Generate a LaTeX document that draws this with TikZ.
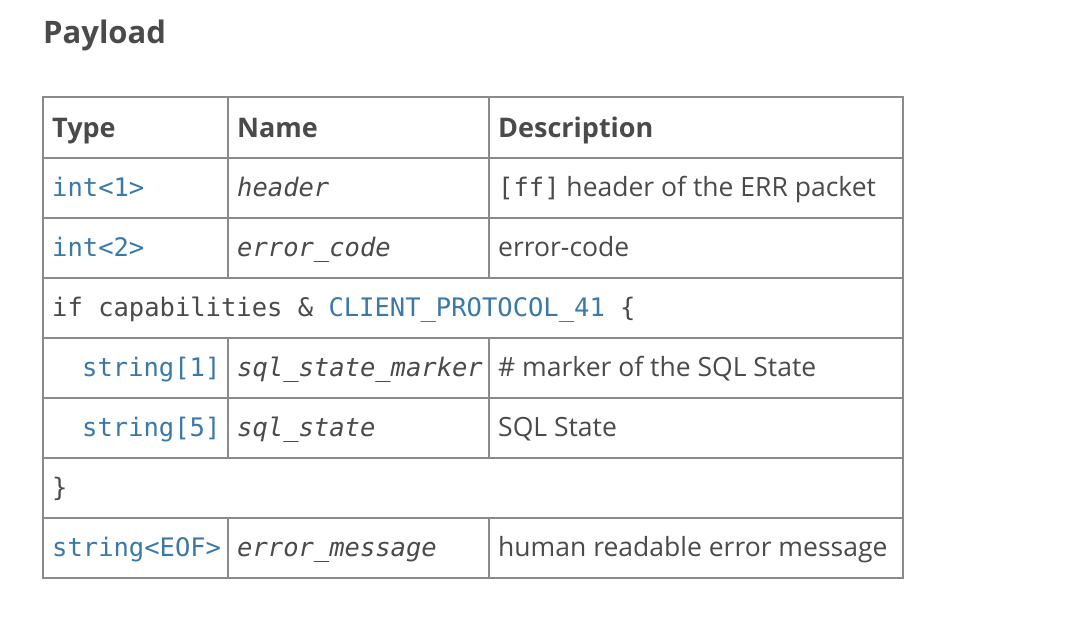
\documentclass[tikz,border=0pt]{standalone}
\usepackage{fontspec}
\setmainfont{Open Sans}
\setmonofont{DejaVu Sans Mono}
\definecolor{txt}{HTML}{4A4A4A}
\definecolor{lnk}{HTML}{3A78A8}
\definecolor{bd}{HTML}{8A8A8A}
\begin{document}
\begin{tikzpicture}[x=1pt,y=-1pt,
  cell/.style={anchor=base west,text=txt,inner sep=0pt,font=\fontsize{26.5}{30}\selectfont},
  mono/.style={anchor=base west,text=txt,inner sep=0pt,font=\fontsize{25.5}{30}\selectfont\ttfamily},
  it/.style={anchor=base west,text=txt,inner sep=0pt,font=\fontsize{25.5}{30}\selectfont\ttfamily\itshape},
  lk/.style={anchor=base west,text=lnk,inner sep=0pt,font=\fontsize{25.5}{30}\selectfont\ttfamily},
  hd/.style={anchor=base west,text=txt,inner sep=0pt,font=\fontsize{27}{30}\selectfont\bfseries}]
\useasboundingbox (0,0) rectangle (1066,626);
\node[anchor=base west,text=txt,inner sep=0pt,font=\fontsize{31}{34}\selectfont\bfseries] (title) at (43,44) {Payload};
% grid
\draw[bd,line width=2pt] (43,97) rectangle (903,578);
\foreach \y in {158,218,278,338,398,458,518} \draw[bd,line width=2pt] (43,\y) -- (903,\y);
\foreach \a/\b in {97/278,338/458,518/578} {
  \draw[bd,line width=2pt] (228,\a) -- (228,\b);
  \draw[bd,line width=2pt] (489,\a) -- (489,\b);}
\node[hd] (h1) at (52,137) {Type};
\node[hd] (h2) at (237,137) {Name};
\node[hd] (h3) at (498,137) {Description};
\node[lk] (t1) at (52,196) {int<1>};
\node[it] (n1) at (237,196) {header};
\node[cell] (d1) at (498,196) {{\fontsize{25.5}{30}\ttfamily[ff]} header of the ERR packet};
\node[lk] (t2) at (52,256) {int<2>};
\node[it] (n2) at (237,256) {error\_code};
\node[cell] (d2) at (498,256) {error-code};
\node[mono] (if) at (52,316) {if capabilities \& \textcolor{lnk}{CLIENT\_PROTOCOL\_41} \{};
\node[lk] (t3) at (82,376) {string[1]};
\node[it] (n3) at (237,376) {sql\_state\_marker};
\node[cell] (d3) at (498,376) {\# marker of the SQL State};
\node[lk] (t4) at (82,436) {string[5]};
\node[it] (n4) at (237,436) {sql\_state};
\node[cell] (d4) at (498,436) {SQL State};
\node[mono] (cl) at (52,496) {\}};
\node[lk] (t5) at (52,556) {string<EOF>};
\node[it] (n5) at (237,556) {error\_message};
\node[cell] (d5) at (498,556) {human readable error message};
\end{tikzpicture}
\end{document}
